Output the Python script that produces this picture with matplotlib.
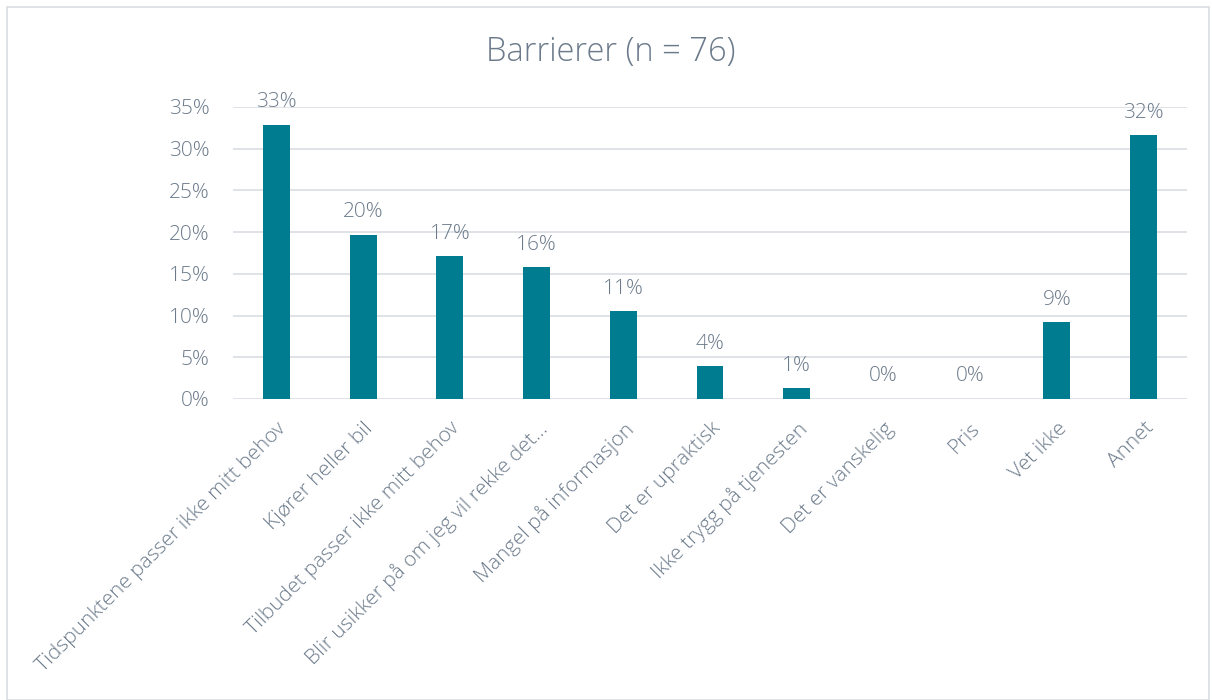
import matplotlib.pyplot as plt
from matplotlib.patches import Rectangle

categories = ['Tidspunktene passer ikke mitt behov', 'Kjører heller bil',
              'Tilbudet passer ikke mitt behov', 'Blir usikker på om jeg vil rekke det…',
              'Mangel på informasjon', 'Det er upraktisk', 'Ikke trygg på tjenesten',
              'Det er vanskelig', 'Pris', 'Vet ikke', 'Annet']
values = [32.9, 19.7, 17.1, 15.8, 10.5, 3.9, 1.3, 0.0, 0.0, 9.2, 31.6]
labels = ['33%', '20%', '17%', '16%', '11%', '4%', '1%', '0%', '0%', '9%', '32%']
yticks = [0, 5, 10, 15, 20, 25, 30, 35]

plt.rcParams['font.family'] = ['Open Sans', 'DejaVu Sans']
plt.rcParams['font.weight'] = 'light'
txt = '#6c7b8b'
bar_col = '#007c91'

fig = plt.figure(figsize=(12.12, 7.0), dpi=100)
fig.patches.append(Rectangle((7/1212, 0), 1202/1212, 693/700, transform=fig.transFigure,
                             fill=False, edgecolor='#d9dee3', linewidth=1.2))
ax = fig.add_axes([233/1212, 1-399/700, 954/1212, 292/700])

x = range(len(categories))
ax.bar(x, values, width=0.31, color=bar_col, zorder=3)
for i, v in enumerate(values):
    ax.text(i, v + 1.5, labels[i], ha='center', va='bottom', fontsize=15, color=txt)

ax.set_xlim(-0.5, len(categories) - 0.5)
ax.set_ylim(0, 35)
ax.set_yticks(yticks)
ax.set_yticklabels([str(t) + '%' for t in yticks])
ax.grid(axis='y', color='#d9dee3', linewidth=1.2, zorder=0)
for s in ax.spines.values():
    s.set_visible(False)
ax.tick_params(axis='both', length=0, colors=txt, labelsize=15)
ax.tick_params(axis='y', pad=17)
ax.set_xticks(list(x))
ax.set_xticklabels(categories, rotation=45, ha='right', rotation_mode='anchor')
ax.tick_params(axis='x', pad=14)

fig.text(611/1212, 1-52/700, 'Barrierer (n = 76)', ha='center', va='center', fontsize=23.5, color=txt)

fig.savefig('out.png', dpi=100)
